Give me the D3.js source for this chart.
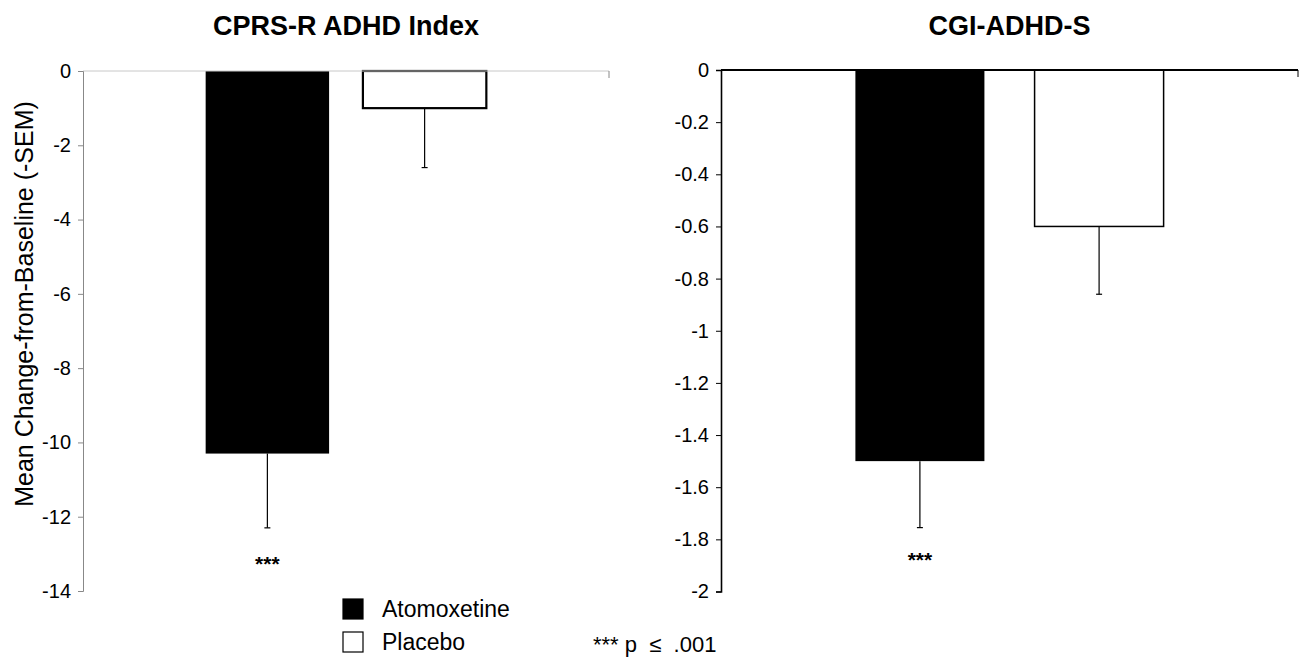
<!DOCTYPE html>
<html>
<head>
<meta charset="utf-8">
<script src="https://cdn.jsdelivr.net/npm/d3@7"></script>
<style>
  body { margin: 0; background: #fff; }
  svg { display: block; font-family: "Liberation Sans", Arial, sans-serif; }
  .tick text { font-family: "Liberation Sans Narrow", "Liberation Sans", Arial, sans-serif; }
</style>
</head>
<body>
<svg id="chart" width="1304" height="661"></svg>
<script>
// data
var groups = ["Atomoxetine", "Placebo"];
var groupFill = ["#000000", "#ffffff"];

var cprsTitle = "CPRS-R ADHD Index";
var cprsMean = [-10.3, -1.0];
var cprsSem = [2.0, 1.6];
var cprsTicks = [0, -2, -4, -6, -8, -10, -12, -14];
var cprsStars = ["***", ""];

var cgiTitle = "CGI-ADHD-S";
var cgiMean = [-1.5, -0.6];
var cgiSem = [0.255, 0.26];
var cgiTicks = [0, -0.2, -0.4, -0.6, -0.8, -1, -1.2, -1.4, -1.6, -1.8, -2];
var cgiStars = ["***", ""];

var yLabel = "Mean Change-from-Baseline (-SEM)";
var footnote = "*** p  \u2264  .001";

var svg = d3.select("#chart");

function drawPanel(opt) {
    var x = d3.scaleBand()
        .domain(groups)
        .range([opt.left, opt.right])
        .paddingInner(opt.padIn)
        .paddingOuter(opt.padOut);

    var y = d3.scaleLinear()
        .domain([d3.min(opt.ticks), 0])
        .range([opt.bottom, opt.top]);

    var g = svg.append("g");

    // title
    g.append("text")
        .attr("x", (opt.left + opt.right) / 2)
        .attr("y", 35)
        .attr("text-anchor", "middle")
        .style("font-size", "27px")
        .style("font-weight", "bold")
        .text(opt.title);

    // bars
    g.selectAll(".bar")
        .data(opt.mean)
        .enter().append("rect")
        .attr("class", "bar")
        .attr("x", function (d, i) { return x(groups[i]); })
        .attr("y", y(0))
        .attr("width", x.bandwidth())
        .attr("height", function (d) { return y(d) - y(0); })
        .style("fill", function (d, i) { return groupFill[i]; })
        .style("stroke", "#000")
        .style("stroke-width", function (d, i) { return i == 1 ? opt.boxStroke : 0; });

    // error bars (downward only)
    var err = g.selectAll(".err")
        .data(opt.mean)
        .enter().append("g")
        .attr("class", "err");

    err.append("line")
        .attr("x1", function (d, i) { return x(groups[i]) + x.bandwidth() / 2; })
        .attr("x2", function (d, i) { return x(groups[i]) + x.bandwidth() / 2; })
        .attr("y1", function (d) { return y(d); })
        .attr("y2", function (d, i) { return y(d - opt.sem[i]); })
        .style("stroke", "#000")
        .style("stroke-width", 1.2);

    err.append("line")
        .attr("x1", function (d, i) { return x(groups[i]) + x.bandwidth() / 2 - 3; })
        .attr("x2", function (d, i) { return x(groups[i]) + x.bandwidth() / 2 + 3; })
        .attr("y1", function (d, i) { return y(d - opt.sem[i]); })
        .attr("y2", function (d, i) { return y(d - opt.sem[i]); })
        .style("stroke", "#000")
        .style("stroke-width", 1.2);

    // significance stars
    g.selectAll(".stars")
        .data(opt.stars)
        .enter().append("text")
        .attr("class", "stars")
        .attr("x", function (d, i) { return x(groups[i]) + x.bandwidth() / 2; })
        .attr("y", opt.starY)
        .attr("text-anchor", "middle")
        .style("font-size", "21px")
        .style("font-weight", "bold")
        .text(function (d) { return d; });

    // top (zero) line
    g.append("line")
        .attr("x1", opt.left)
        .attr("x2", opt.right)
        .attr("y1", y(0))
        .attr("y2", y(0))
        .style("stroke", opt.zeroColor)
        .style("stroke-width", opt.zeroWidth);
    g.append("line")
        .attr("x1", opt.right)
        .attr("x2", opt.right)
        .attr("y1", y(0))
        .attr("y2", y(0) + 7)
        .style("stroke", opt.axisColor)
        .style("stroke-width", 1);

    // y axis
    var yAxis = g.append("g")
        .attr("transform", "translate(" + opt.left + ",0)")
        .call(d3.axisLeft(y)
            .tickValues(opt.ticks)
            .tickFormat(function (d) { return String(d); })
            .tickSize(5)
            .tickPadding(7));

    yAxis.select(".domain").style("stroke", opt.axisColor).style("stroke-width", opt.axisWidth);
    yAxis.selectAll(".tick line").style("stroke", opt.axisColor);
    yAxis.selectAll(".tick text")
        .style("font-size", "20px")
        .style("fill", "#000");
}

drawPanel({
    title: cprsTitle, mean: cprsMean, sem: cprsSem, ticks: cprsTicks, stars: cprsStars,
    left: 83, right: 609, top: 71, bottom: 591,
    padIn: 0.215, padOut: 0.78,
    boxStroke: 2.2, starY: 571,
    zeroColor: "#c8c8c8", zeroWidth: 1,
    axisColor: "#888", axisWidth: 1
});

drawPanel({
    title: cgiTitle, mean: cgiMean, sem: cgiSem, ticks: cgiTicks, stars: cgiStars,
    left: 721, right: 1298, top: 70, bottom: 591.5,
    padIn: 0.28, padOut: 0.75,
    boxStroke: 1.5, starY: 567,
    zeroColor: "#000", zeroWidth: 2.2,
    axisColor: "#000", axisWidth: 1.6
});

// y label
svg.append("text")
    .attr("transform", "translate(33,304) rotate(-90)")
    .attr("text-anchor", "middle")
    .style("font-size", "25px")
    .text(yLabel);

// legend
var legend = svg.selectAll(".legend")
    .data(groups)
    .enter().append("g")
    .attr("class", "legend")
    .attr("transform", function (d, i) { return "translate(343," + (599 + i * 33) + ")"; });

legend.append("rect")
    .attr("width", 20)
    .attr("height", 20)
    .style("fill", function (d, i) { return groupFill[i]; })
    .style("stroke", "#000")
    .style("stroke-width", 1.2);

legend.append("text")
    .attr("x", 39)
    .attr("y", 18)
    .style("font-size", "23px")
    .text(function (d) { return d; });

svg.append("text")
    .attr("x", 593)
    .attr("y", 652)
    .style("font-size", "22px")
    .style("white-space", "pre")
    .text(footnote);
</script>
</body>
</html>
